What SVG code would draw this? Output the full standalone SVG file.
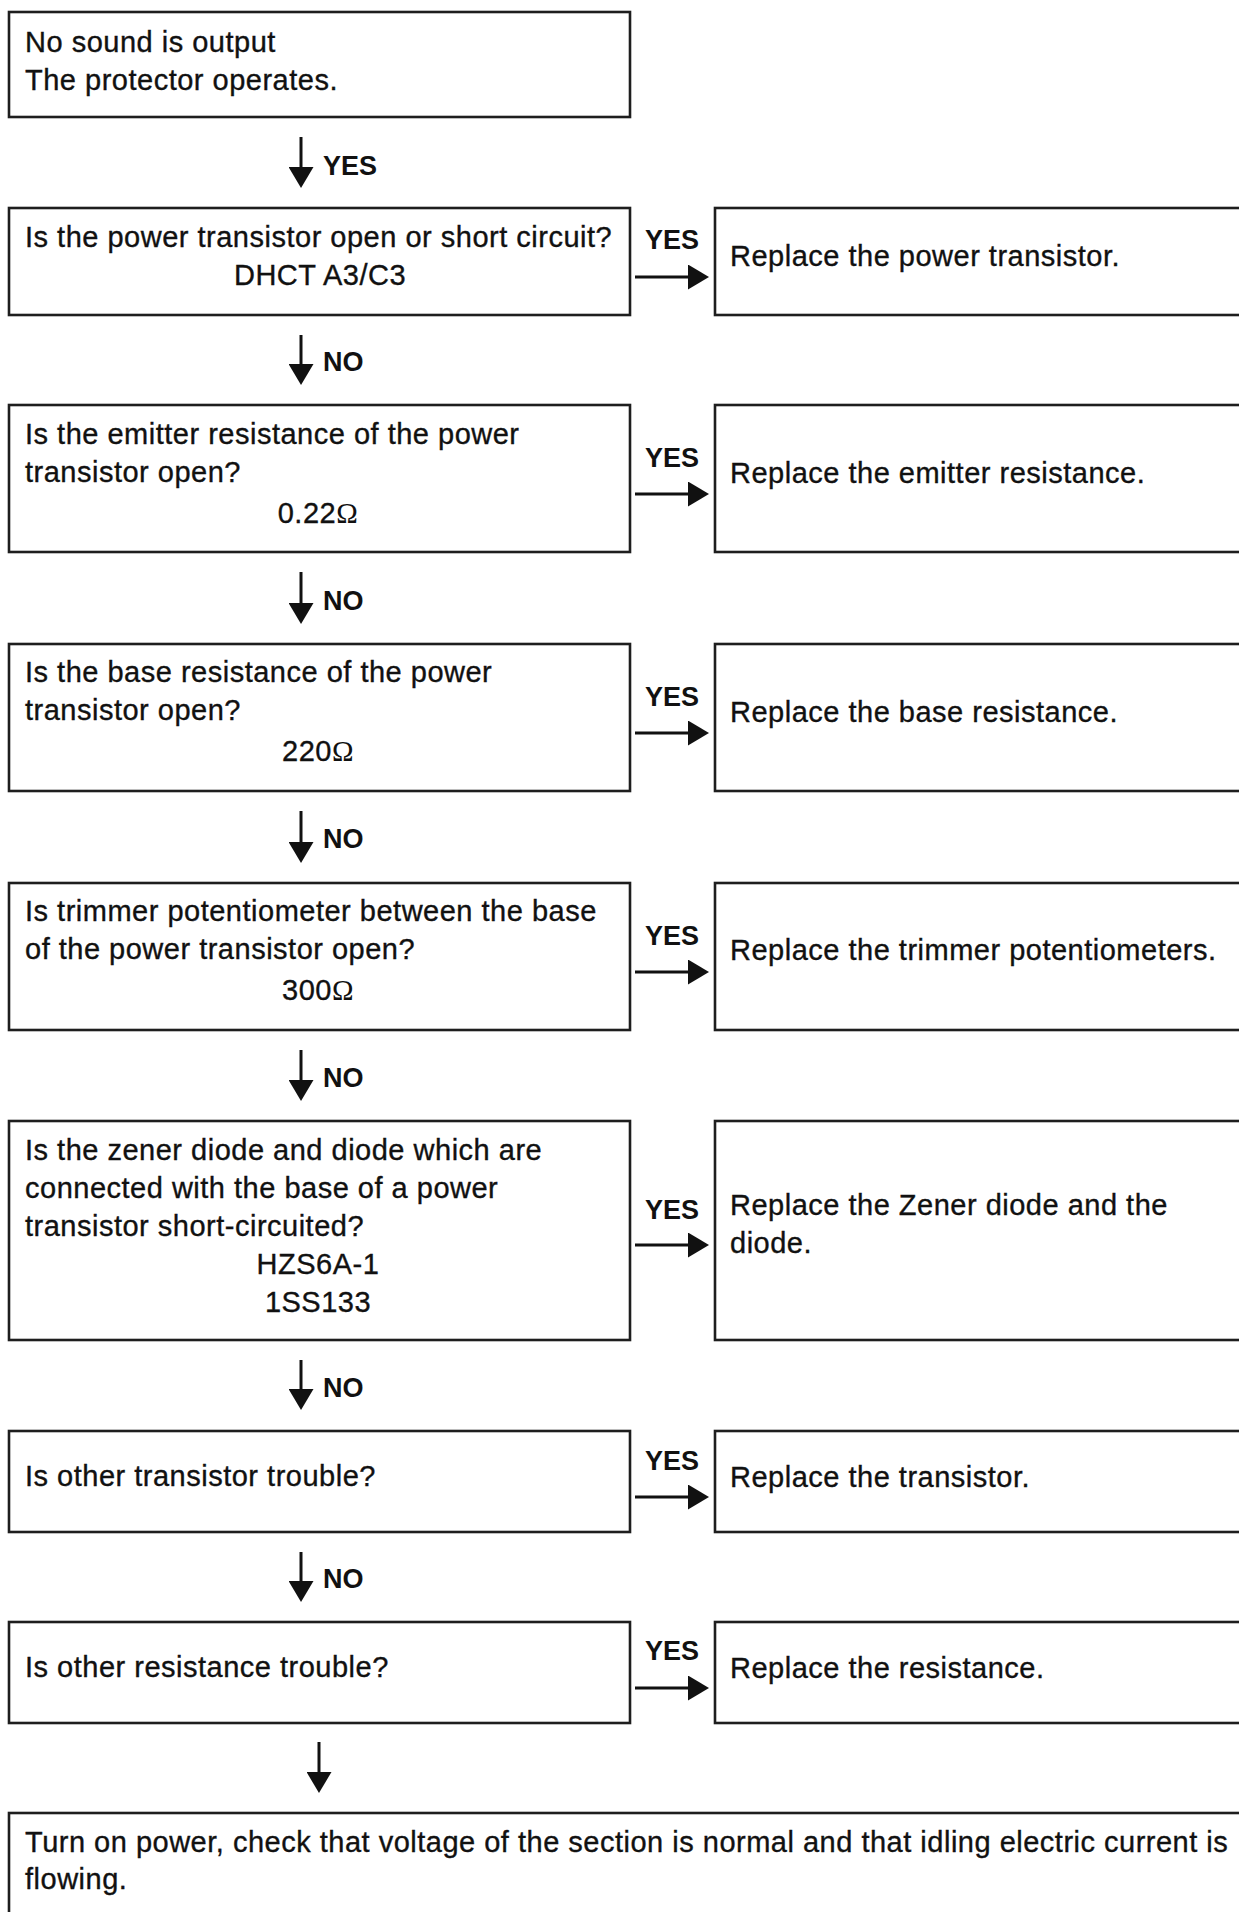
<svg xmlns="http://www.w3.org/2000/svg" width="1239" height="1912" viewBox="0 0 1239 1912">
<style>
.box{fill:#fff;stroke:#1e1e1e;stroke-width:2.6}
.t{font-family:"Liberation Sans",Arial,sans-serif;font-size:29px;letter-spacing:0.5px;fill:#111;stroke:#111;stroke-width:0.35}
.c{text-anchor:middle}
.om{font-family:"Liberation Serif","Times New Roman",serif;stroke-width:0}
.lbl{font-family:"Liberation Sans",Arial,sans-serif;font-size:27px;font-weight:bold;fill:#111}
.ar{stroke:#111;stroke-width:3;fill:none;marker-end:url(#ah)}
</style>
<defs>
<marker id="ah" viewBox="0 0 21 25" refX="10" refY="12.5" markerWidth="21" markerHeight="25" markerUnits="userSpaceOnUse" orient="auto">
<path d="M0,0 L21,12.5 L0,25 z" fill="#111"/>
</marker>
</defs>
<rect width="1239" height="1912" fill="#fff"/>

<g id="n1">
<rect class="box" x="9" y="12" width="621" height="105"/>
<text class="t" x="25" y="52">No sound is output</text>
<text class="t" x="25" y="90">The protector operates.</text>
</g>

<g id="n2">
<rect class="box" x="9" y="208" width="621" height="107"/>
<text class="t" x="25" y="247">Is the power transistor open or short circuit?</text>
<text class="t c" x="320" y="285">DHCT A3/C3</text>
</g>
<g id="r2">
<rect class="box" x="715" y="208" width="540" height="107"/>
<text class="t" x="730" y="266">Replace the power transistor.</text>
</g>

<g id="n3">
<rect class="box" x="9" y="405" width="621" height="147"/>
<text class="t" x="25" y="444">Is the emitter resistance of the power</text>
<text class="t" x="25" y="482">transistor open?</text>
<text class="t c" x="318" y="523">0.22<tspan class="om">Ω</tspan></text>
</g>
<g id="r3">
<rect class="box" x="715" y="405" width="540" height="147"/>
<text class="t" x="730" y="483">Replace the emitter resistance.</text>
</g>

<g id="n4">
<rect class="box" x="9" y="644" width="621" height="147"/>
<text class="t" x="25" y="682">Is the base resistance of the power</text>
<text class="t" x="25" y="720">transistor open?</text>
<text class="t c" x="318" y="761">220<tspan class="om">Ω</tspan></text>
</g>
<g id="r4">
<rect class="box" x="715" y="644" width="540" height="147"/>
<text class="t" x="730" y="722">Replace the base resistance.</text>
</g>

<g id="n5">
<rect class="box" x="9" y="883" width="621" height="147"/>
<text class="t" x="25" y="921">Is trimmer potentiometer between the base</text>
<text class="t" x="25" y="959">of the power transistor open?</text>
<text class="t c" x="318" y="1000">300<tspan class="om">Ω</tspan></text>
</g>
<g id="r5">
<rect class="box" x="715" y="883" width="540" height="147"/>
<text class="t" x="730" y="960">Replace the trimmer potentiometers.</text>
</g>

<g id="n6">
<rect class="box" x="9" y="1121" width="621" height="219"/>
<text class="t" x="25" y="1160">Is the zener diode and diode which are</text>
<text class="t" x="25" y="1198">connected with the base of a power</text>
<text class="t" x="25" y="1236">transistor short-circuited?</text>
<text class="t c" x="318" y="1274">HZS6A-1</text>
<text class="t c" x="318" y="1312">1SS133</text>
</g>
<g id="r6">
<rect class="box" x="715" y="1121" width="540" height="219"/>
<text class="t" x="730" y="1215">Replace the Zener diode and the</text>
<text class="t" x="730" y="1253">diode.</text>
</g>

<g id="n7">
<rect class="box" x="9" y="1431" width="621" height="101"/>
<text class="t" x="25" y="1486">Is other transistor trouble?</text>
</g>
<g id="r7">
<rect class="box" x="715" y="1431" width="540" height="101"/>
<text class="t" x="730" y="1487">Replace the transistor.</text>
</g>

<g id="n8">
<rect class="box" x="9" y="1622" width="621" height="101"/>
<text class="t" x="25" y="1677">Is other resistance trouble?</text>
</g>
<g id="r8">
<rect class="box" x="715" y="1622" width="540" height="101"/>
<text class="t" x="730" y="1678">Replace the resistance.</text>
</g>

<g id="n9">
<rect class="box" x="9" y="1813" width="1250" height="200"/>
<text class="t" x="25" y="1852">Turn on power, check that voltage of the section is normal and that idling electric current is</text>
<text class="t" x="25" y="1889">flowing.</text>
</g>

<g id="connectors">
<line class="ar" x1="301" y1="137" x2="301" y2="177"/>
<text class="lbl" x="323" y="175">YES</text>
<line class="ar" x1="301" y1="335" x2="301" y2="374"/>
<text class="lbl" x="323" y="371">NO</text>
<line class="ar" x1="301" y1="572" x2="301" y2="613"/>
<text class="lbl" x="323" y="610">NO</text>
<line class="ar" x1="301" y1="811" x2="301" y2="852"/>
<text class="lbl" x="323" y="848">NO</text>
<line class="ar" x1="301" y1="1050" x2="301" y2="1090"/>
<text class="lbl" x="323" y="1087">NO</text>
<line class="ar" x1="301" y1="1360" x2="301" y2="1399"/>
<text class="lbl" x="323" y="1397">NO</text>
<line class="ar" x1="301" y1="1552" x2="301" y2="1591"/>
<text class="lbl" x="323" y="1588">NO</text>
<line class="ar" x1="319" y1="1742" x2="319" y2="1782"/>

<line class="ar" x1="635" y1="277" x2="698" y2="277"/>
<text class="lbl" x="645" y="249">YES</text>
<line class="ar" x1="635" y1="494" x2="698" y2="494"/>
<text class="lbl" x="645" y="467">YES</text>
<line class="ar" x1="635" y1="733" x2="698" y2="733"/>
<text class="lbl" x="645" y="706">YES</text>
<line class="ar" x1="635" y1="972" x2="698" y2="972"/>
<text class="lbl" x="645" y="945">YES</text>
<line class="ar" x1="635" y1="1245" x2="698" y2="1245"/>
<text class="lbl" x="645" y="1219">YES</text>
<line class="ar" x1="635" y1="1497" x2="698" y2="1497"/>
<text class="lbl" x="645" y="1470">YES</text>
<line class="ar" x1="635" y1="1688" x2="698" y2="1688"/>
<text class="lbl" x="645" y="1660">YES</text>
</g>
</svg>
